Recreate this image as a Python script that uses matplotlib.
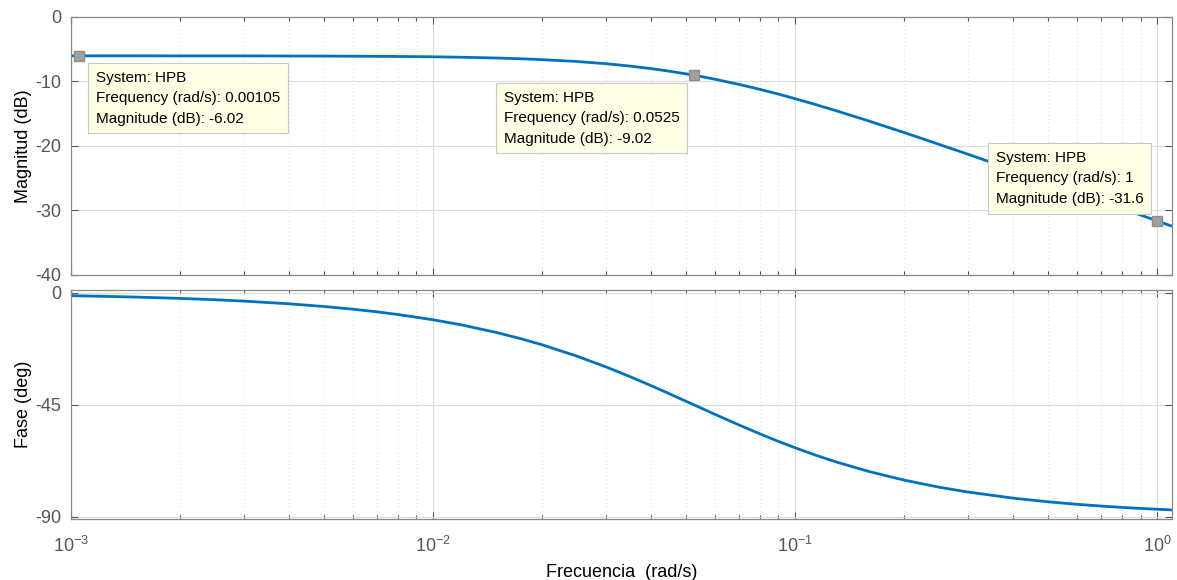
import matplotlib
matplotlib.use('Agg')
import matplotlib.pyplot as plt
from matplotlib.ticker import LogLocator, NullFormatter

plt.rcParams['font.family'] = ['Liberation Sans', 'DejaVu Sans']
plt.rcParams['mathtext.fontset'] = 'custom'
plt.rcParams['mathtext.rm'] = 'Liberation Sans'
plt.rcParams['axes.unicode_minus'] = False

# values
freq = [0.001, 0.0012, 0.0015, 0.002, 0.0025, 0.003, 0.004, 0.005, 0.006, 0.007, 0.008,
        0.01, 0.012, 0.015, 0.0175, 0.02, 0.025, 0.03,
        0.035, 0.04, 0.045, 0.05, 0.055, 0.06, 0.07, 0.08, 0.09, 0.1, 0.115, 0.13,
        0.16, 0.2, 0.25, 0.3, 0.4, 0.5, 0.6, 0.7, 0.8, 0.9, 1.0, 1.1]
mag_db = [-6.02, -6.02, -6.02, -6.03, -6.03, -6.03, -6.05, -6.06, -6.08, -6.10, -6.12,
          -6.17, -6.24, -6.36, -6.48, -6.61, -6.90, -7.24,
          -7.61, -8.00, -8.41, -8.82, -9.23, -9.64, -10.45, -11.22, -11.96, -12.66, -13.64, -14.54,
          -16.13, -17.91, -19.75, -21.27, -23.72, -25.63, -27.20, -28.53, -29.68, -30.70, -31.61, -32.44]
phase_deg = [-1.09, -1.31, -1.63, -2.18, -2.72, -3.26, -4.35, -5.43, -6.51, -7.58, -8.65,
             -10.77, -12.85, -15.92, -18.40, -20.82, -25.42, -29.70,
             -33.64, -37.25, -40.55, -43.56, -46.27, -48.76, -53.08, -56.67, -59.70, -62.25, -65.43, -67.97,
             -71.80, -75.26, -78.12, -80.05, -82.51, -83.99, -84.99, -85.70, -86.24, -86.66, -86.99, -87.26]

# data tips
tip_freq = [0.00105, 0.0525, 1.0]
tip_mag = [-6.02, -9.02, -31.6]
tip_labels = ['0.00105', '0.0525', '1']
tip_box_xy = [(0.00117, -8.3), (0.0157, -11.4), (0.359, -20.75)]

LINE_COLOUR = '#0072BD'
AX_COLOUR = '#555555'
TXT_COLOUR = '#555555'

fig = plt.figure(figsize=(11.77, 5.80), dpi=100)
ax1 = fig.add_axes([0.0603, 0.5259, 0.9355, 0.4448])
ax2 = fig.add_axes([0.0603, 0.1052, 0.9355, 0.3948])

for ax in (ax1, ax2):
    ax.set_xscale('log')
    ax.set_xlim(1e-3, 1.1)
    ax.xaxis.set_major_locator(LogLocator(base=10, numticks=10))
    ax.xaxis.set_minor_locator(LogLocator(base=10, subs=range(2, 10), numticks=20))
    ax.xaxis.set_minor_formatter(NullFormatter())
    ax.grid(True, which='major', color='#dcdcdc', linewidth=0.8, linestyle='-')
    ax.grid(True, which='minor', axis='x', color='#dadada', linewidth=0.7, linestyle=(0, (1, 3)))
    ax.set_axisbelow(True)
    ax.tick_params(which='both', direction='in', top=True, right=True,
                   colors=AX_COLOUR, labelcolor=TXT_COLOUR, labelsize=13)
    ax.tick_params(which='major', length=5, width=0.8)
    ax.tick_params(which='minor', length=3, width=0.8)
    ax.tick_params(axis='y', pad=7)
    ax.tick_params(axis='x', pad=12)
    for s in ax.spines.values():
        s.set_color('#888888')
        s.set_linewidth(0.9)

ax1.plot(freq, mag_db, color=LINE_COLOUR, linewidth=2.0)
ax1.set_ylim(-40, 0)
ax1.set_yticks([0, -10, -20, -30, -40])
ax1.tick_params(axis='x', labelbottom=False)
ax1.set_ylabel('Magnitud (dB)', fontsize=13, color='black', labelpad=2)

ax2.plot(freq, phase_deg, color=LINE_COLOUR, linewidth=2.0)
ax2.set_ylim(-90.9, 1.2)
ax2.set_yticks([0, -45, -90])
ax2.set_ylabel('Fase (deg)', fontsize=13, color='black', labelpad=2)
ax2.set_xlabel('Frecuencia  (rad/s)', fontsize=13, color='black', labelpad=6)

for f, m, lab, (bx, by) in zip(tip_freq, tip_mag, tip_labels, tip_box_xy):
    ax1.plot([f], [m], marker='s', markersize=7, color='#a0a0a0',
             markeredgecolor='#8c8c8c', zorder=5, clip_on=False)
    txt = 'System: HPB\nFrequency (rad/s): %s\nMagnitude (dB): %s' % (lab, m)
    ax1.text(bx, by, txt, fontsize=11, color='black', ha='left', va='top',
             linespacing=1.6, zorder=6,
             bbox=dict(boxstyle='square,pad=0.5', facecolor='#ffffe6',
                       edgecolor='#c8c8c8', linewidth=0.8))

fig.savefig('out.png', dpi=100)
